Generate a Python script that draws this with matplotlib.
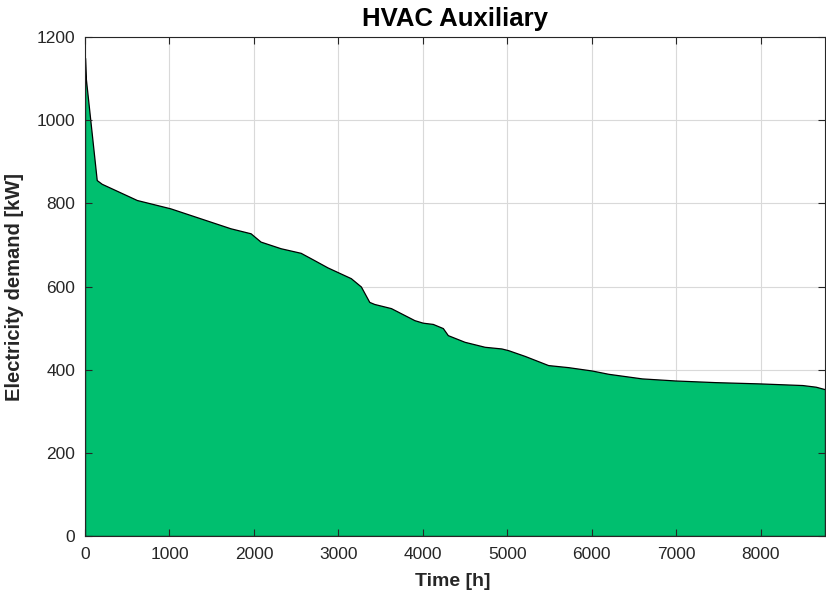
import matplotlib.pyplot as plt

plt.rcParams['font.family'] = ['Liberation Sans', 'DejaVu Sans']

# load duration curve
hours = [0, 10, 139, 198, 614, 1010, 1722, 1960, 2078, 2316, 2553, 2708, 2870,
         3147, 3266, 3365, 3424, 3622, 3900, 3998, 4117, 4236, 4295, 4493,
         4731, 4929, 5008, 5206, 5483, 5721, 5998, 6196, 6591, 6987, 7462,
         7977, 8492, 8650, 8760]
demand = [1150, 1100, 856, 847, 808, 788, 740, 728, 708, 692, 681, 664, 646,
          620, 600, 563, 558, 548, 519, 513, 510, 500, 483, 467,
          455, 451, 447, 433, 411, 406, 398, 390, 379, 374, 370,
          367, 363, 359, 353]
xticks = list(range(0, 9000, 1000))
yticks = list(range(0, 1400, 200))

fig = plt.figure(figsize=(8.26, 5.97), dpi=100)
ax = fig.add_axes([0.1029, 0.1022, 0.8959, 0.8358])

# grid drawn by hand so it sits under the fill while ticks stay on top
for t in xticks:
    ax.axvline(t, color='#d9d9d9', linewidth=0.8, zorder=0.5)
for t in yticks:
    ax.axhline(t, color='#d9d9d9', linewidth=0.8, zorder=0.5)

ax.fill_between(hours, demand, 0, facecolor='#00BF6F', edgecolor='black', linewidth=0.9, zorder=1)

ax.set_xlim(0, 8760)
ax.set_ylim(0, 1200)
ax.set_xticks(xticks)
ax.set_yticks(yticks)
ax.tick_params(direction='in', top=True, right=True, labelsize=12.5, colors='#262626', length=5)
ax.tick_params(axis='x', pad=8)
ax.tick_params(axis='y', pad=7)
for s in ax.spines.values():
    s.set_color('#262626')

ax.set_title('HVAC Auxiliary', fontsize=18.5, fontweight='bold', pad=8)
ax.set_xlabel('Time [h]', fontsize=14, fontweight='bold', color='#262626')
ax.set_ylabel('Electricity demand [kW]', fontsize=14.5, fontweight='bold', color='#262626')
ax.xaxis.set_label_coords(0.497, -0.092)
ax.xaxis.label.set_va('center')
ax.yaxis.set_label_coords(-0.0946, 0.5)
ax.yaxis.label.set_va('center')

fig.savefig('out.png', dpi=100)
